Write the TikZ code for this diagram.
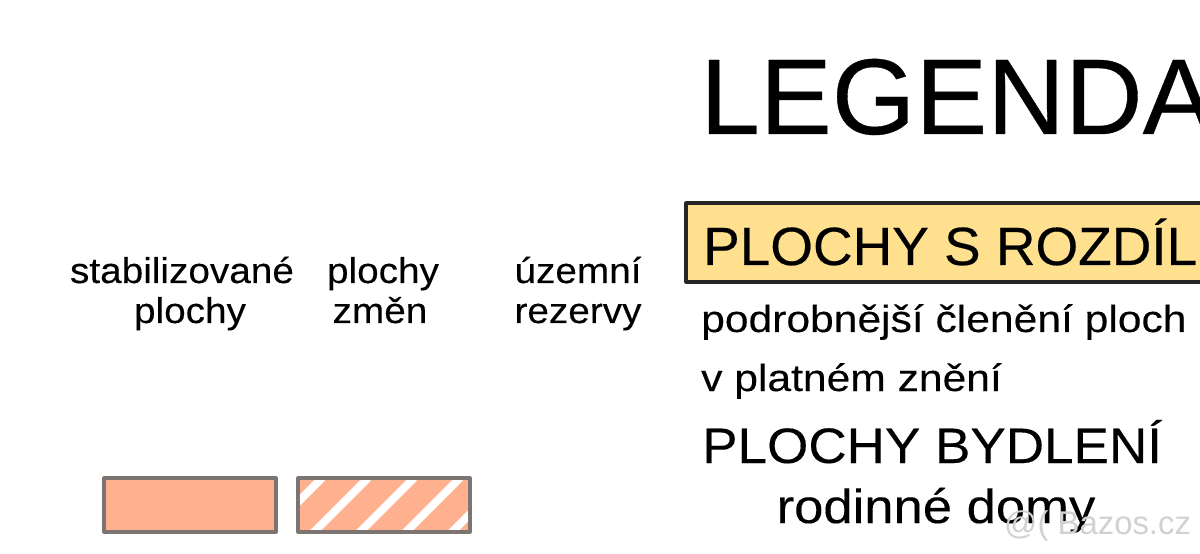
\documentclass[tikz,border=0pt]{standalone}
\usepackage{fontspec}
\setmainfont{Liberation Sans}
\newfontfamily\fhead[FakeStretch=1.0,FakeBold=0.35]{Liberation Sans}
\newfontfamily\fband[FakeStretch=1.02,FakeBold=0.35]{Liberation Sans}
\newfontfamily\fcol[FakeStretch=1.08,FakeBold=0.2]{Liberation Sans}
\newfontfamily\fbody[FakeStretch=1.125,FakeBold=0.2]{Liberation Sans}
\newfontfamily\fsub[FakeStretch=1.065,FakeBold=0.2]{Liberation Sans}
\newfontfamily\fdom[FakeStretch=1.1,FakeBold=0.2]{Liberation Sans}
\tikzset{
  lbl/.style={inner sep=0pt,anchor=base west,text=black},
  lblc/.style={inner sep=0pt,anchor=base,text=black,align=center},
  colhead/.style={lblc,font=\fcol\fontsize{36}{36}\selectfont},
  swatch/.style={draw=swatchline,line width=3.2pt,line join=round},
}
\definecolor{swatchfill}{HTML}{FFB08F}
\definecolor{swatchline}{HTML}{7C7470}
\definecolor{bandfill}{HTML}{FEE08F}
\begin{document}
\begin{tikzpicture}[x=1bp,y=-1bp]
\useasboundingbox (0,0) rectangle (1200,554);
\clip (0,0) rectangle (1200,554);
\node[lbl,font=\fhead\fontsize{108}{108}\selectfont] (title) at (700,134) {LEGENDA};
\filldraw[draw=black!85,fill=bandfill,line width=3.2pt,line join=round] (686,203) rectangle (1210,282);
\node[lbl,font=\fband\fontsize{54}{54}\selectfont] (band) at (703,265) {PLOCHY S ROZDÍLNÝM};
\node[colhead] (c1a) at (182,283) {stabilizované};
\node[colhead] (c1b) at (190,323) {plochy};
\node[colhead] (c2a) at (383,283) {plochy};
\node[colhead] (c2b) at (380,323) {změn};
\node[colhead] (c3a) at (578,283) {územní};
\node[colhead] (c3b) at (578,323) {rezervy};
\node[lbl,font=\fbody\fontsize{38}{38}\selectfont] (t1) at (701,332) {podrobnější členění ploch};
\node[lbl,font=\fbody\fontsize{38}{38}\selectfont] (t2) at (701,391) {v platném znění};
\node[lbl,font=\fsub\fontsize{50}{50}\selectfont] (t3) at (702,463) {PLOCHY BYDLENÍ};
\node[lblc,font=\fdom\fontsize{48}{48}\selectfont] (t4) at (936,523) {rodinné domy};
\draw[swatch,fill=swatchfill] (104,478) rectangle (276,532);
\begin{scope}
\clip (298,478) rectangle (470,532);
\fill[swatchfill] (298,478) rectangle (470,532);
\foreach \x in {0,46,92,138,184}
  \draw[white,line width=8pt] (\x+263,532+5) -- (\x+263+59,532+5-59);
\end{scope}
\draw[swatch] (298,478) rectangle (470,532);
\node[lbl,font=\fontsize{33}{33}\selectfont,text=black!18] (wm) at (1004,534) {@( Bazos.cz};
\end{tikzpicture}
\end{document}
